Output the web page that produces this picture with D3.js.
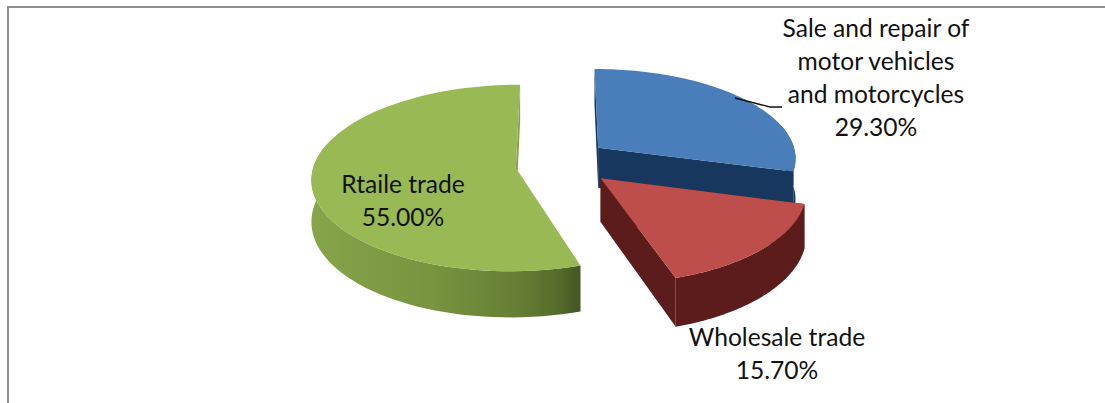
<!DOCTYPE html>
<html><head><meta charset="utf-8">
<script src="https://cdn.jsdelivr.net/npm/d3@7"></script>
<style>
html,body{margin:0;padding:0;background:#fff;overflow:hidden}
svg{display:block}
text{font-family:Lato,"Open Sans",sans-serif;font-size:24.6px;fill:#111;text-anchor:middle}
</style></head><body>
<svg id="c" width="1105" height="403"></svg>
<script>
// data
const categories = ["Sale and repair of motor vehicles and motorcycles", "Wholesale trade", "Rtaile trade"];
const values = [0.293, 0.157, 0.55];
const labelLines = [
  ["Sale and repair of", "motor vehicles", "and motorcycles"],
  ["Wholesale trade"],
  ["Rtaile trade"]
];
// styles and layout
const topColors = ["#4a7ebb", "#be4e4b", "#98b954"];
const wallColors = ["#17375e", "#5c1c1b", "url(#greenWall)"];
const explodeOffset = [[0.19, 0.19], [0.195, -0.14], [-0.215, -0.03]];
const radiusScale = [0.975, 0.98, 0.985];
const depthScale = [1, 1.05, 1];
const labelAnchor = [[876, 36.5], [777, 345.5], [403, 193]];
const lineHeight = 33;
const view = {vx: 560, vy: 165, rx: 205, ry: 93, k: 0.11, depth: 41};

const svg = d3.select("#c");
const fmt = d3.format(".2%");

// frame
svg.append("path").attr("d", d3.line()([[8, 403], [8, 7], [1105, 7]]))
  .attr("fill", "none").attr("stroke", "#8e8e8e").attr("stroke-width", 2);

const defs = svg.append("defs");
const grad = defs.append("linearGradient").attr("id", "greenWall")
  .attr("gradientUnits", "userSpaceOnUse").attr("x1", 314).attr("x2", 577).attr("y1", 0).attr("y2", 0);
[[0, "#86a449"], [0.45, "#78943f"], [0.8, "#637c33"], [0.93, "#556b2b"], [1, "#465824"]]
  .forEach(([o, c]) => grad.append("stop").attr("offset", o).attr("stop-color", c));

const pieLayout = d3.pie().sort(null).value(d => d)(values);

function proj(off, theta, rho, drop) {
  const X = off[0] + rho * Math.sin(theta), Y = off[1] + rho * Math.cos(theta);
  const s = 1 / (1 + view.k * Y);
  return [view.vx + view.rx * X * s, view.vy - view.ry * Y * s + drop * view.depth * s];
}
const line = d3.line();
const g = svg.append("g").style("filter", "blur(0.5px)");

[2, 0, 1].forEach(i => {
  const p = pieLayout[i], off = explodeOffset[i], rho = radiusScale[i], d = depthScale[i];
  const n = 80;
  const angles = d3.range(n + 1).map(j => p.startAngle + (p.endAngle - p.startAngle) * j / n);
  const rim = angles.map(a => proj(off, a, rho, 0));
  const frontAngles = angles.filter(a => Math.cos(a) < 0.3);
  const wallTop = frontAngles.map(a => proj(off, a, rho, 0));
  const wallLow = frontAngles.map(a => proj(off, a, rho, d));
  const apex = proj(off, 0, 0, 0), apexLow = proj(off, 0, 0, d);
  const low = a => proj(off, a, rho, d);
  // outer wall
  g.append("path").attr("d", line(wallTop.concat(wallLow.reverse())) + "Z").attr("fill", wallColors[i]);
  // cut faces: the green slice only shows its face at the 12 o'clock edge
  if (i !== 2) {
    g.append("path").attr("d", line([rim[0], apex, apexLow, low(p.startAngle)]) + "Z").attr("fill", wallColors[i]);
    g.append("path").attr("d", line([rim[n], apex, apexLow, low(p.endAngle)]) + "Z").attr("fill", wallColors[i]);
  } else {
    g.append("path").attr("d", line([rim[n], apex, apexLow, low(p.endAngle)]) + "Z").attr("fill", "#86a349");
  }
  // top face
  g.append("path").attr("d", line([apex].concat(rim)) + "Z").attr("fill", topColors[i]);
});

// leader line
svg.append("path").attr("d", line([[735, 98], [770, 107], [782, 107]]))
  .attr("fill", "none").attr("stroke", "#111").attr("stroke-width", 1.3);

// labels
categories.forEach((c, i) => {
  const [x, y] = labelAnchor[i];
  const t = svg.append("text").attr("aria-label", c);
  labelLines[i].concat([fmt(values[i])]).forEach((l, j) => {
    t.append("tspan").attr("x", x).attr("y", y + j * lineHeight).text(l);
  });
});
</script></body></html>
